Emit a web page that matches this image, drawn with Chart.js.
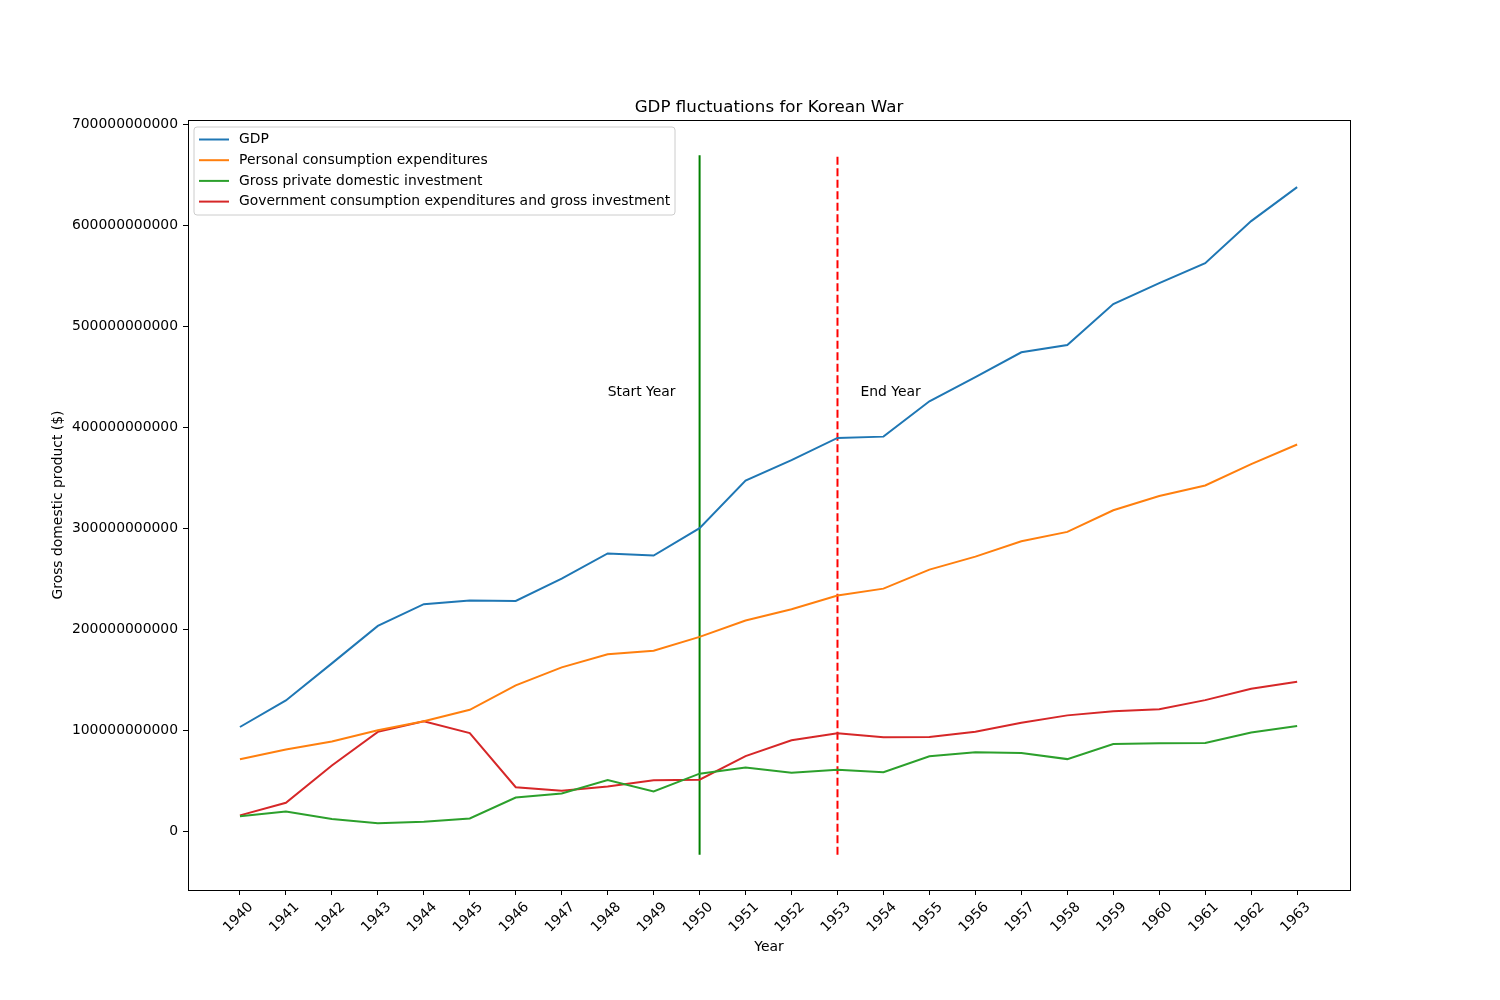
<!DOCTYPE html>
<html>
<head>
<meta charset="utf-8">
<script src="https://cdn.jsdelivr.net/npm/chart.js@4.4.1/dist/chart.umd.min.js"></script>
<style>
  body { margin: 0; background: #fff; }
  #wrap { width: 1500px; height: 1000px; }
</style>
</head>
<body>
<div id="wrap"><canvas id="gdpChart" width="1500" height="1000"></canvas></div>
<script>
// Dados (valores em bilhões de dólares)
const years = [1940, 1941, 1942, 1943, 1944, 1945, 1946, 1947, 1948, 1949, 1950, 1951,
               1952, 1953, 1954, 1955, 1956, 1957, 1958, 1959, 1960, 1961, 1962, 1963];
const gdp = [103.0, 129.3, 166.0, 203.1, 224.6, 228.2, 227.8, 249.9, 274.8, 272.8, 299.8, 346.9,
             367.3, 389.2, 390.5, 425.5, 449.4, 474.0, 481.2, 521.7, 542.4, 562.2, 603.9, 637.5];
const consumption = [71.0, 80.8, 88.7, 99.8, 108.6, 120.0, 144.2, 162.0, 175.0, 178.5, 192.2, 208.5,
                     219.5, 233.1, 240.0, 258.8, 271.7, 286.9, 296.2, 317.6, 331.7, 342.1, 363.3, 382.7];
const investment = [14.6, 19.4, 11.8, 7.6, 9.2, 12.4, 33.1, 37.1, 50.5, 39.2, 56.8, 63.0,
                    57.7, 60.7, 58.3, 74.0, 78.0, 77.3, 71.2, 86.2, 87.0, 87.1, 97.6, 104.0];
const government = [15.5, 28.0, 64.9, 98.2, 108.7, 96.9, 43.4, 39.8, 44.1, 50.2, 50.8, 74.1,
                    89.8, 96.8, 92.8, 93.2, 98.3, 107.3, 114.5, 118.7, 120.6, 129.6, 140.9, 147.8];
const seriesNames = ['GDP', 'Personal consumption expenditures', 'Gross private domestic investment',
                     'Government consumption expenditures and gross investment'];
const seriesColors = ['#1f77b4', '#ff7f0e', '#2ca02c', '#d62728'];
const yTicks = [0, 100e9, 200e9, 300e9, 400e9, 500e9, 600e9, 700e9];
const warStart = 1950;
const warEnd = 1953;
const markerSpan = [-23.5e9, 669e9];
const notes = [
    { text: 'Start Year', x: 1948, y: 431e9 },
    { text: 'End Year', x: 1953.5, y: 431e9 }
];
const chartTitle = 'GDP fluctuations for Korean War';

const fonte = '"DejaVu Sans", "Liberation Sans", sans-serif';
const BILLION = 1e9;

function pontos(valores) {
    return years.map((ano, i) => ({ x: ano, y: valores[i] * BILLION }));
}

const allSeries = [gdp, consumption, investment, government];
const datasets = allSeries.map((valores, i) => ({
    label: seriesNames[i],
    data: pontos(valores),
    borderColor: seriesColors[i],
    backgroundColor: seriesColors[i],
    borderWidth: 2,
    pointRadius: 0,
    tension: 0,
    fill: false
}));

// Linhas verticais: início e fim da guerra
datasets.push({
    label: '_start',
    data: [{ x: warStart, y: markerSpan[0] }, { x: warStart, y: markerSpan[1] }],
    borderColor: '#008000',
    borderWidth: 2,
    pointRadius: 0,
    fill: false
});
datasets.push({
    label: '_end',
    data: [{ x: warEnd, y: markerSpan[0] }, { x: warEnd, y: markerSpan[1] }],
    borderColor: '#ff0000',
    borderWidth: 2,
    borderDash: [8, 3.5],
    pointRadius: 0,
    fill: false
});

// Título, moldura, anotações e legenda dentro da área do gráfico
const extrasPlugin = {
    id: 'extras',
    afterDraw(chart) {
        const ctx = chart.ctx;
        const area = chart.chartArea;
        const xs = chart.scales.x;
        const ys = chart.scales.y;

        ctx.save();
        ctx.strokeStyle = '#000';
        ctx.lineWidth = 1;
        ctx.strokeRect(Math.round(area.left) + 0.5, Math.round(area.top) + 0.5,
                       Math.round(area.right - area.left), Math.round(area.bottom - area.top));

        // título centrado na área do gráfico
        ctx.fillStyle = '#000';
        ctx.font = '16.7px ' + fonte;
        ctx.textAlign = 'center';
        ctx.textBaseline = 'alphabetic';
        ctx.fillText(chartTitle, (area.left + area.right) / 2, area.top - 8);

        ctx.font = '13.9px ' + fonte;
        ctx.textAlign = 'left';
        notes.forEach(n => {
            ctx.fillText(n.text, xs.getPixelForValue(n.x), ys.getPixelForValue(n.y));
        });

        // legenda
        const lx = area.left + 6, ly = area.top + 7, lw = 481, lh = 88, r = 3;
        ctx.beginPath();
        ctx.moveTo(lx + r, ly);
        ctx.arcTo(lx + lw, ly, lx + lw, ly + lh, r);
        ctx.arcTo(lx + lw, ly + lh, lx, ly + lh, r);
        ctx.arcTo(lx, ly + lh, lx, ly, r);
        ctx.arcTo(lx, ly, lx + lw, ly, r);
        ctx.closePath();
        ctx.fillStyle = 'rgba(255,255,255,0.8)';
        ctx.fill();
        ctx.strokeStyle = '#cccccc';
        ctx.stroke();

        ctx.textBaseline = 'middle';
        seriesNames.forEach((nome, i) => {
            const yy = ly + 12.5 + i * 20.7;
            ctx.strokeStyle = seriesColors[i];
            ctx.lineWidth = 2;
            ctx.beginPath();
            ctx.moveTo(lx + 5, yy);
            ctx.lineTo(lx + 35, yy);
            ctx.stroke();
            ctx.fillStyle = '#000';
            ctx.fillText(nome, lx + 45, yy);
        });
        ctx.restore();
    }
};

const ctxGdp = document.getElementById('gdpChart').getContext('2d');
new Chart(ctxGdp, {
    type: 'line',
    data: { datasets: datasets },
    plugins: [extrasPlugin],
    options: {
        responsive: false,
        animation: false,
        layout: { padding: { left: 46, right: 150, top: 120, bottom: 40 } },
        scales: {
            x: {
                type: 'linear',
                min: 1938.87,
                max: 1964.15,
                afterBuildTicks: (axis) => { axis.ticks = years.map(v => ({ value: v })); },
                afterFit: (scale) => { scale.height = 70; },
                ticks: {
                    autoSkip: false,
                    minRotation: 45,
                    maxRotation: 45,
                    padding: 4,
                    labelOffset: 11,
                    color: '#000',
                    font: { family: fonte, size: 13.9 },
                    callback: (v) => String(v)
                },
                grid: { display: true, drawOnChartArea: false, drawTicks: true, tickLength: 5, color: '#000' },
                border: { display: true, color: '#000' },
                title: { display: true, text: 'Year', color: '#000', font: { family: fonte, size: 13.9 } }
            },
            y: {
                type: 'linear',
                min: -58.4e9,
                max: 704e9,
                afterBuildTicks: (axis) => { axis.ticks = yTicks.map(v => ({ value: v })); },
                afterFit: (scale) => { scale.width = 142; },
                ticks: {
                    padding: 5,
                    color: '#000',
                    font: { family: fonte, size: 13.9 },
                    callback: (v) => String(v)
                },
                grid: { display: true, drawOnChartArea: false, drawTicks: true, tickLength: 5, color: '#000' },
                border: { display: true, color: '#000' },
                title: { display: true, text: 'Gross domestic product ($)', color: '#000', font: { family: fonte, size: 13.9 } }
            }
        },
        plugins: {
            legend: { display: false },
            tooltip: { enabled: false },
            title: { display: false }
        }
    }
});
</script>
</body>
</html>
